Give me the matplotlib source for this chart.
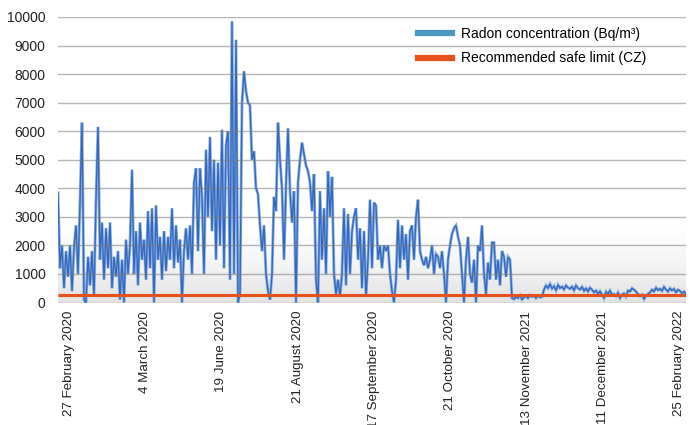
import numpy as np
import matplotlib
matplotlib.use("Agg")
import matplotlib.pyplot as plt
from matplotlib.lines import Line2D
from matplotlib.colors import LinearSegmentedColormap

plt.rcParams['font.family'] = ['Liberation Sans', 'DejaVu Sans']

# Radon concentration (Bq/m3), in chronological order
seg_a = [3850, 1200, 2000, 500, 1800, 900, 2000, 400, 1900, 2700, 1000, 3500, 6300, 100, 0,
         1600, 600, 1800, 200, 3600, 6150]
seg_b = [1500, 2800, 800, 2600, 1200, 2800, 500, 1600, 900, 1800, 100, 1500, 0, 2200, 1000,
         2000, 4650]
seg_c = [1000, 2500, 600, 2800, 1500, 2200, 800, 3200, 1200, 3300, 0, 3400, 1500, 2300, 800,
         2500, 1100, 2300]
seg_d = [1500, 3300, 1200, 2700, 1400, 2200, 0, 1800, 2600, 1500, 2700, 1000, 4200, 4700, 1800,
         4700, 3700, 1000, 5350, 3000, 5800, 2500, 5000, 1500, 4900, 2000, 6050, 1200, 5500, 6000,
         800, 9850, 1000]
seg_e = [9200, 0, 300, 7000, 8100, 7400, 7000, 6900, 5000, 5300, 4000, 3800, 2700, 1800, 2700,
         1000, 400, 100, 1000, 3700, 3200, 6300, 5000, 4000, 1500, 4100, 6100, 3900, 2800, 3900,
         0, 4200, 5000]
seg_f = [5600, 5200, 4800, 4600, 4200, 3200, 4500, 800, 0, 3900, 1500, 3300, 1000, 4600, 3000,
         4400, 1000, 300, 800, 200, 1000, 3300, 600, 3100, 1000, 2500, 3000, 3300, 1500, 2600,
         500, 2500, 200, 1500, 3600, 1200, 3500, 3400, 1500, 2000, 1200, 2000, 1800, 2000, 1000,
         400, 0, 800]
seg_g = [2900, 1200, 2700, 1500, 2400, 800, 2500, 2700, 1500, 3000, 3600, 1800, 1500, 1300, 1600,
         1200, 1500, 2000, 1000, 1700, 1600, 1200, 1800, 1000, 0, 1500, 2000, 2400, 2600, 2700,
         2300, 2000, 1000, 0, 1500, 2300, 1000, 700, 1500, 0, 2000, 1800, 2700, 1000, 300,
         1400, 800, 2100, 2100, 800, 1500, 600, 1800, 1600, 900, 1600, 1500, 150]
seg_h = [120, 200, 150, 250, 100, 180, 220, 150, 260, 200, 230, 150, 240, 180, 200]
seg_i = [450, 600, 500, 650, 480, 580, 420, 620, 500, 560, 450, 600, 520, 480, 560, 420, 600, 500,
         450, 550, 400]
seg_j = [500, 380, 520, 450, 350, 420, 300, 400, 280, 150, 380, 300, 420, 260, 300, 220, 350, 150,
         280, 320, 200, 420, 380, 500, 450, 380, 300, 220, 280, 120, 250, 300, 350, 450, 380, 520,
         430, 480, 400, 550, 450, 380, 500, 420, 480, 350, 450, 400, 330, 380, 300]
radon = seg_a + seg_b + seg_c + seg_d + seg_e + seg_f + seg_g + seg_h + seg_i + seg_j

safe_limit = 250

tick_labels = ["27 February 2020", "4 March 2020", "19 June 2020", "21 August 2020",
               "17 September 2020", "21 October 2020", "13 November 2021",
               "11 December 2021", "25 February 2022"]

y_ticks = [0, 1000, 2000, 3000, 4000, 5000, 6000, 7000, 8000, 9000, 10000]

W, H = 691, 425
fig = plt.figure(figsize=(W / 100, H / 100), dpi=100)
left, right, top, bottom = 58, 686, 17, 302.5
ax = fig.add_axes([left / W, 1 - bottom / H, (right - left) / W, (bottom - top) / H])

n = len(radon)
x = np.arange(n)
ax.set_xlim(0, n - 1)
ax.set_ylim(0, 10000)

# background gradient near the bottom
grad = np.linspace(0, 1, 256).reshape(-1, 1)
cmap = LinearSegmentedColormap.from_list("bg", ["#e2e2e2", "#f4f4f4", "#ffffff"])
ax.imshow(grad, extent=(0, n - 1, 0, 2600), origin="lower", aspect="auto", cmap=cmap,
          zorder=0, interpolation="bilinear")

ax.plot(x, radon, color="#82abe2", lw=2.1, zorder=1.5, alpha=0.9, solid_joinstyle="miter")
ax.plot(x, radon, color="#3568bd", lw=1.0, zorder=2, solid_joinstyle="miter")
ax.plot(x, np.full(n, safe_limit), color="#e8501a", lw=2.2, zorder=4, solid_capstyle="butt")

for yv in y_ticks:
    ax.axhline(yv, color="#7a7a7a", alpha=0.55, lw=1.0, zorder=3)

for s in ax.spines.values():
    s.set_visible(False)

ax.set_yticks(y_ticks)
ax.set_yticklabels([str(v) for v in y_ticks], fontsize=10, color="#222222")
ax.tick_params(axis="y", length=0, pad=9)

tick_pos = [5.5 + 38.125 * k for k in range(len(tick_labels))]
ax.set_xticks(tick_pos)
ax.set_xticklabels(tick_labels, rotation=90, fontsize=9.6, color="#222222", va="top", ha="center")
ax.tick_params(axis="x", length=0, pad=6)

handles = [Line2D([0], [0], color="#4a97c0", lw=4.5),
           Line2D([0], [0], color="#e8501a", lw=4.5)]
ax.legend(handles, ["Radon concentration (Bq/m³)", "Recommended safe limit (CZ)"],
          loc="upper left", bbox_to_anchor=(418 / W, 1 - 27 / H), bbox_transform=fig.transFigure,
          frameon=False, fontsize=10, handlelength=2.45, handletextpad=0.65,
          labelspacing=0.75, borderpad=0, borderaxespad=0)

fig.savefig("out.png", dpi=100)
